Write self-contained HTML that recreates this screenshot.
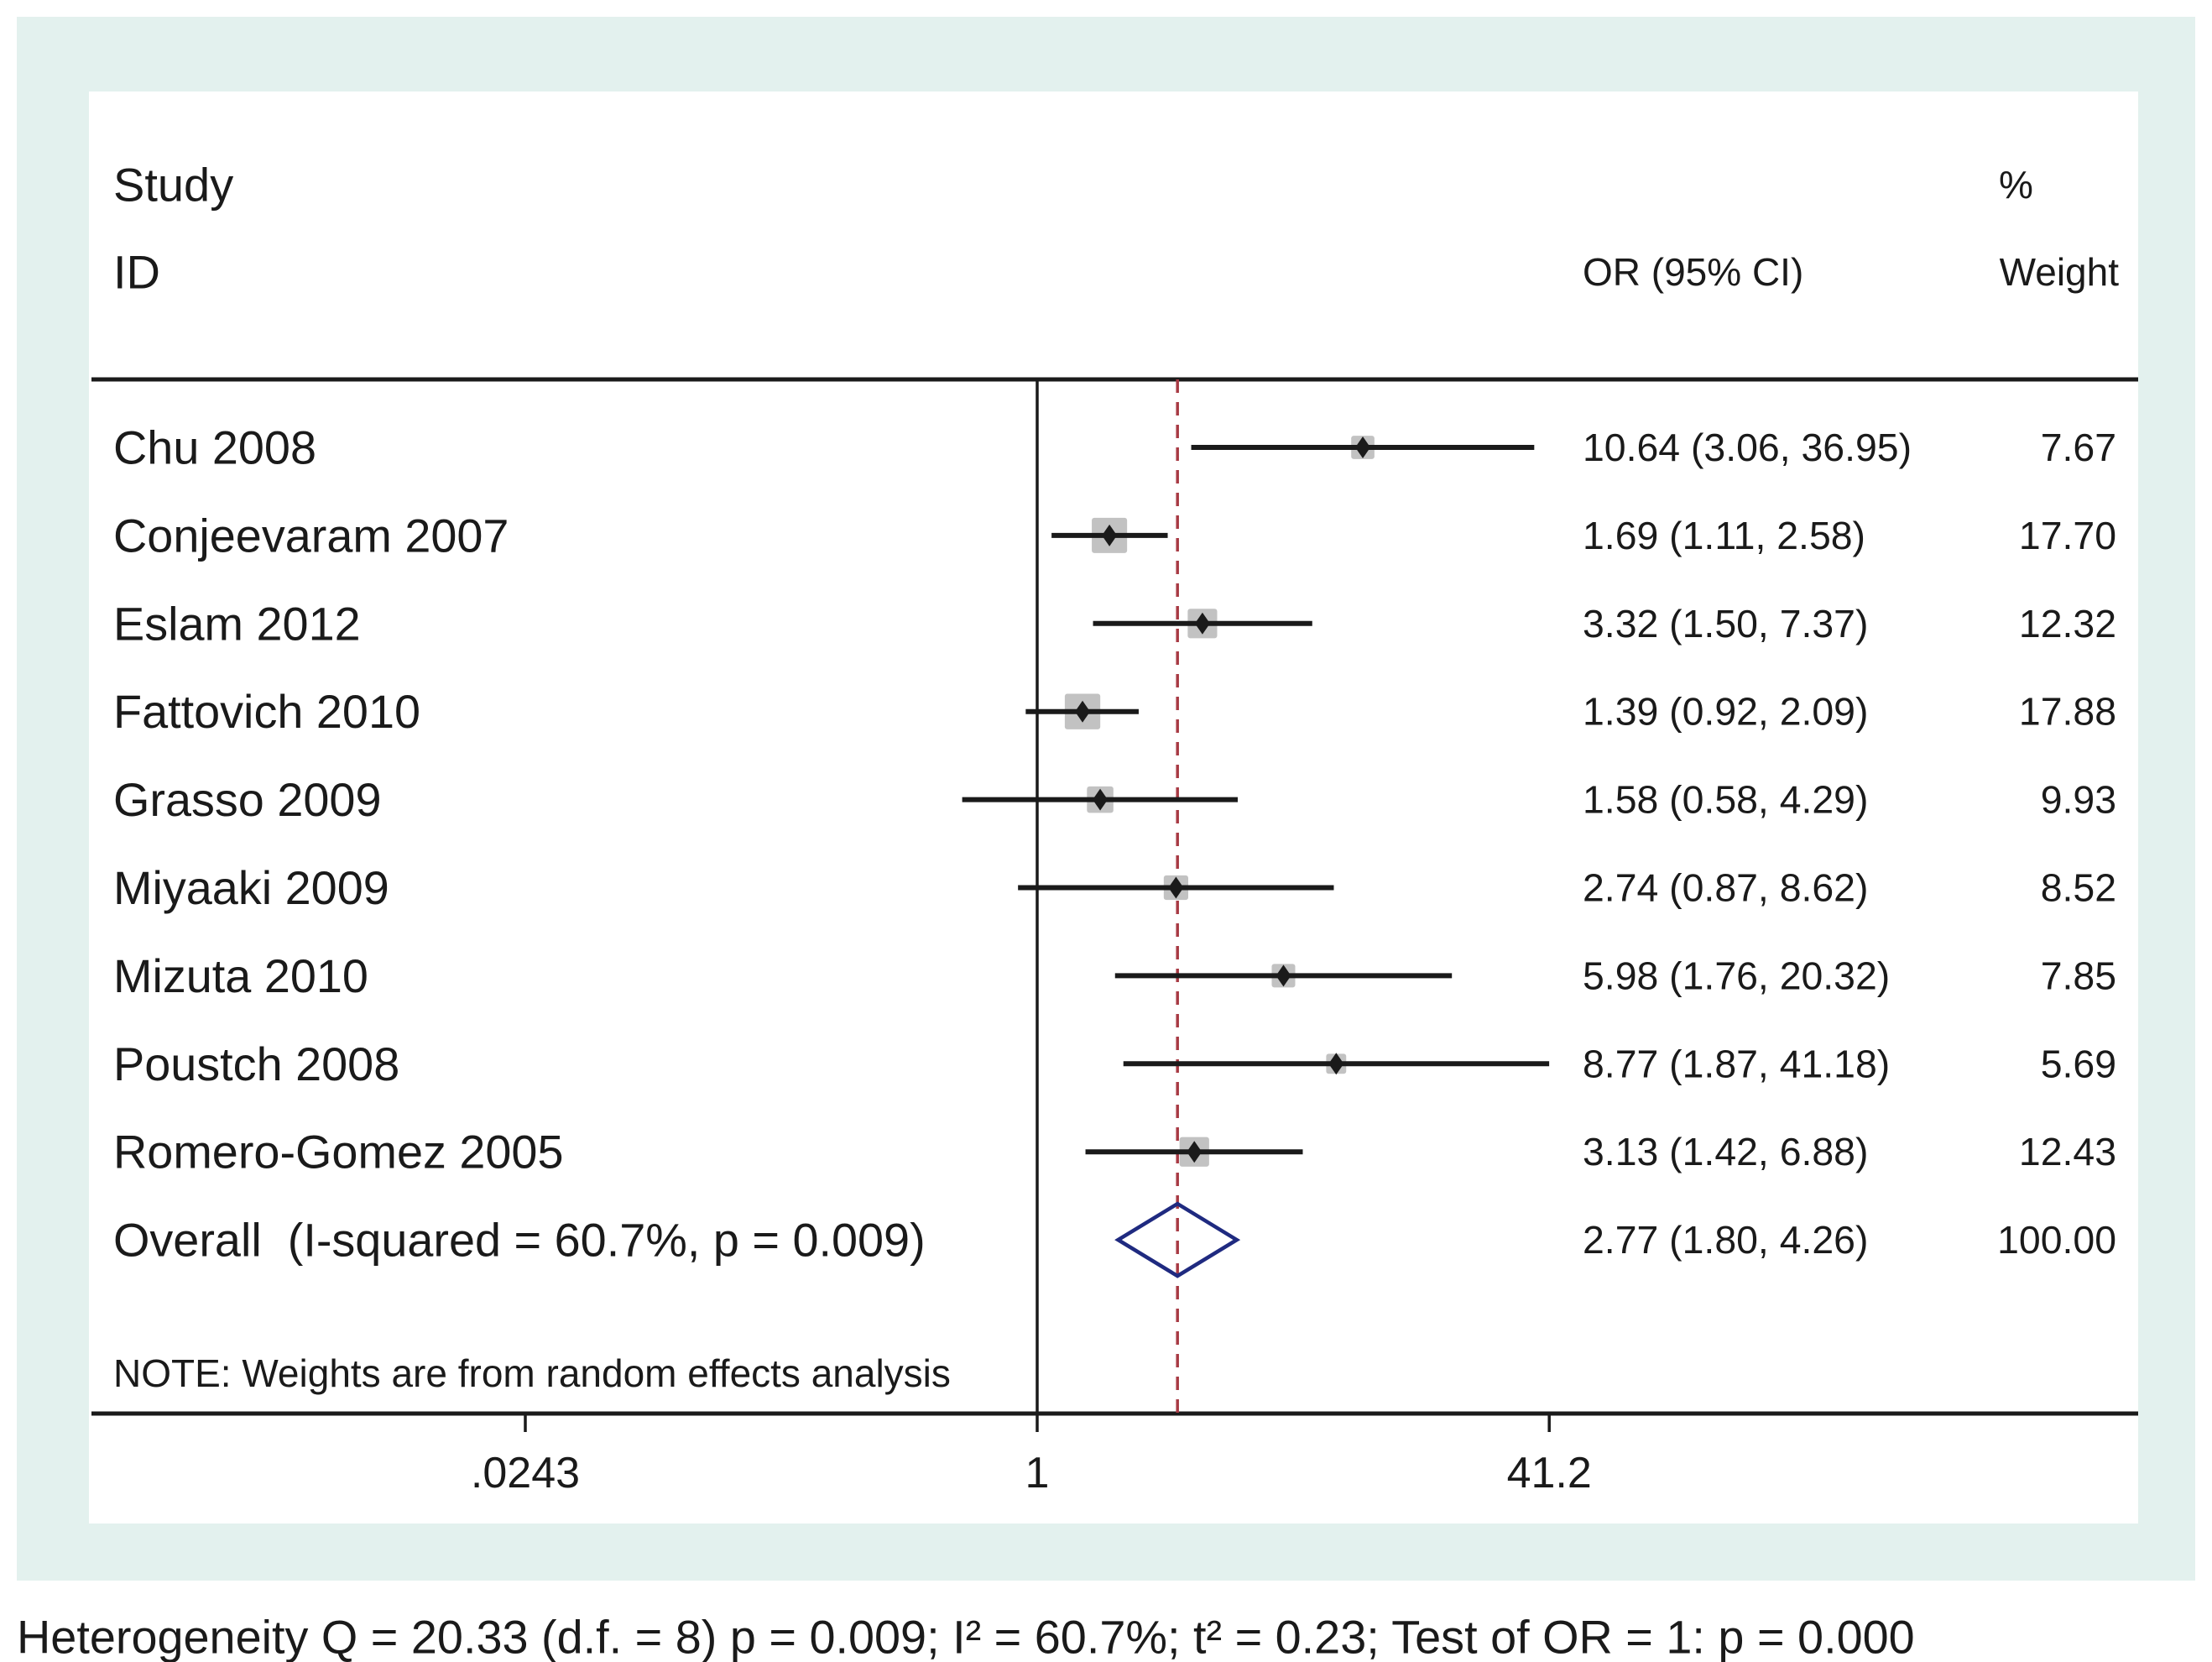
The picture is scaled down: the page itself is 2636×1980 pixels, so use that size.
<!DOCTYPE html>
<html><head><meta charset="utf-8"><style>
html,body{margin:0;padding:0;background:#fff;}
svg{display:block;font-family:"Liberation Sans",Arial,sans-serif;}
</style></head><body>
<svg id="chart" width="2636" height="1980" viewBox="0 0 2636 1980" xmlns="http://www.w3.org/2000/svg">
<rect x="20" y="20" width="2596" height="1863" fill="#e3f1ee"/>
<rect x="106" y="109" width="2442" height="1706" fill="#ffffff"/>
<text x="135" y="220" font-size="56" dominant-baseline="central" fill="#1a1a1a">Study</text>
<text x="135" y="324" font-size="56" dominant-baseline="central" fill="#1a1a1a">ID</text>
<text x="1886" y="324" font-size="46" dominant-baseline="central" fill="#1a1a1a">OR (95% CI)</text>
<text x="2382" y="220" font-size="46" dominant-baseline="central" fill="#1a1a1a">%</text>
<text x="2525" y="324" font-size="46" text-anchor="end" dominant-baseline="central" fill="#1a1a1a">Weight</text>
<line x1="109" y1="452" x2="2548" y2="452" stroke="#1a1a1a" stroke-width="5"/>
<line x1="109" y1="1684" x2="2548" y2="1684" stroke="#1a1a1a" stroke-width="5"/>
<g id="marks"></g>
<text x="135" y="1636" font-size="46" dominant-baseline="central" fill="#1a1a1a">NOTE: Weights are from random effects analysis</text>
<text x="20" y="1950" font-size="55.8" dominant-baseline="central" fill="#1a1a1a">Heterogeneity Q = 20.33 (d.f. = 8) p = 0.009; I² = 60.7%; t² = 0.23; Test of OR = 1: p = 0.000</text>
</svg>
<script>
const studies = ["Chu 2008","Conjeevaram 2007","Eslam 2012","Fattovich 2010","Grasso 2009","Miyaaki 2009","Mizuta 2010","Poustch 2008","Romero-Gomez 2005"];
const orValues = [10.64,1.69,3.32,1.39,1.58,2.74,5.98,8.77,3.13];
const lowerCI = [3.06,1.11,1.50,0.92,0.58,0.87,1.76,1.87,1.42];
const upperCI = [36.95,2.58,7.37,2.09,4.29,8.62,20.32,41.18,6.88];
const weights = [7.67,17.70,12.32,17.88,9.93,8.52,7.85,5.69,12.43];
const overallOR = [2.77,1.80,4.26];
const overallLabel = "Overall  (I-squared = 60.7%, p = 0.009)";
const tickValues = [0.0243,1,41.2];
const tickLabels = [".0243","1","41.2"];

const NS = "http://www.w3.org/2000/svg";
const svg = document.getElementById("marks");
function xScale(v){ return 1236 + Math.log(v) * 164.1; }
function yRow(i){ return 533 + i * 104.9; }
function mk(tag, attrs){ const e = document.createElementNS(NS, tag); for (const k in attrs) e.setAttribute(k, attrs[k]); svg.appendChild(e); return e; }
function fmt(v){ return v.toFixed(2); }

const vl = mk("line",{x1:1236,y1:452,x2:1236,y2:1684,stroke:"#1a1a1a","stroke-width":3.5});


const rl = mk("line",{x1:xScale(overallOR[0]),y1:452,x2:xScale(overallOR[0]),y2:1684,stroke:"#a83a44","stroke-width":3.5,"stroke-dasharray":"16 11"});



tickValues.forEach((t,i)=>{
  const x = xScale(t);
  const tk = mk("line",{x1:x,y1:1684,x2:x,y2:1706,stroke:"#1a1a1a","stroke-width":3.5});
  
  
  const tl = mk("text",{x:x,y:1755,"font-size":52,"text-anchor":"middle","dominant-baseline":"central",fill:"#1a1a1a"});
  tl.textContent = tickLabels[i];
  
  
});

studies.forEach((s,i)=>{
  const y = yRow(i);
  const lab = mk("text",{x:135,y:y,"font-size":55.8,"dominant-baseline":"central",fill:"#1a1a1a"});
  lab.textContent = s;
  
  
  const side = 10 * Math.sqrt(weights[i]);
  const cx = xScale(orValues[i]);
  const sq = mk("rect",{x:cx-side/2,y:y-side/2,width:side,height:side,fill:"#c2c2c2",rx:3});
  
  
  const ci = mk("line",{x1:xScale(lowerCI[i]),y1:y,x2:xScale(upperCI[i]),y2:y,stroke:"#1a1a1a","stroke-width":6});
  
  
  const pt = mk("polygon",{points:`${cx-9},${y} ${cx},${y-13} ${cx+9},${y} ${cx},${y+13}`,fill:"#1a1a1a"});
  
  
  const ot = mk("text",{x:1886,y:y,"font-size":46.4,"dominant-baseline":"central",fill:"#1a1a1a"});
  ot.textContent = `${fmt(orValues[i])} (${fmt(lowerCI[i])}, ${fmt(upperCI[i])})`;
  
  
  const wt = mk("text",{x:2522,y:y,"font-size":46.4,"text-anchor":"end","dominant-baseline":"central",fill:"#1a1a1a"});
  wt.textContent = fmt(weights[i]);
  
  
});

const yo = yRow(studies.length);
const ol = mk("text",{x:135,y:yo,"font-size":55.8,"dominant-baseline":"central",fill:"#1a1a1a"});
ol.style.whiteSpace = "pre";
ol.textContent = overallLabel;


const xl = xScale(overallOR[1]), xc = xScale(overallOR[0]), xr = xScale(overallOR[2]);
const dm = mk("polygon",{points:`${xl},${yo} ${xc},${yo-43} ${xr},${yo} ${xc},${yo+43}`,fill:"none",stroke:"#1f2a80","stroke-width":4.5});


const oot = mk("text",{x:1886,y:yo,"font-size":46.4,"dominant-baseline":"central",fill:"#1a1a1a"});
oot.textContent = `${fmt(overallOR[0])} (${fmt(overallOR[1])}, ${fmt(overallOR[2])})`;


const owt = mk("text",{x:2522,y:yo,"font-size":46.4,"text-anchor":"end","dominant-baseline":"central",fill:"#1a1a1a"});
owt.textContent = "100.00";


</script>
</body></html>
